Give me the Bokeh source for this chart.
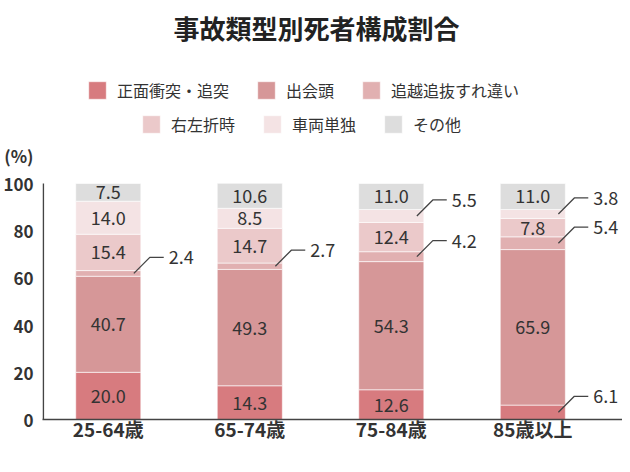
from bokeh.plotting import figure
from bokeh.models import ColumnDataSource, Range1d, FixedTicker, Legend, LegendItem, Label
from bokeh.embed import file_html
from bokeh.resources import INLINE
from bokeh.core.properties import value

# ---- data ----
categories = ["25-64歳", "65-74歳", "75-84歳", "85歳以上"]
series_names = ["正面衝突・追突", "出会頭", "追越追抜すれ違い", "右左折時", "車両単独", "その他"]
head_on = [20.0, 14.3, 12.6, 6.1]
crossing = [40.7, 49.3, 54.3, 65.9]
overtaking = [2.4, 2.7, 4.2, 5.4]
turning = [15.4, 14.7, 12.4, 7.8]
single = [14.0, 8.5, 5.5, 3.8]
other = [7.5, 10.6, 11.0, 11.0]
y_ticks = [0, 20, 40, 60, 80, 100]
y_max = 100
title_text = "事故類型別死者構成割合"
unit_text = "(%)"

series = [head_on, crossing, overtaking, turning, single, other]
colors = ["#d77b7f", "#d69798", "#e1b0b1", "#ebc9ca", "#f4e3e4", "#dddddd"]
FONT = "Noto Sans CJK JP"
TXT = "#333333"

W, H = 622, 464
LEFT = 40
BOTTOM_Y = 419          # frame bottom (px from top)
PX_X = 142.0            # px per category unit
PX_Y = 2.36             # px per percent
BW = 0.46
x0 = -(106 - LEFT) / PX_X
p = figure(width=W, height=H, output_backend="svg", toolbar_location=None, title=None,
           x_range=Range1d(x0, x0 + (W - LEFT) / PX_X), y_range=Range1d(0, BOTTOM_Y / PX_Y),
           min_border_left=LEFT, min_border_right=0, min_border_top=0,
           min_border_bottom=H - BOTTOM_Y)
p.outline_line_color = None
p.xgrid.visible = False
p.ygrid.visible = False
p.background_fill_color = "white"
p.border_fill_color = "white"

xs = list(range(len(categories)))
keys = [f"s{i}" for i in range(len(series))]
data = {"x": xs}
for k, s in zip(keys, series):
    data[k] = s
src = ColumnDataSource(data)
rs = p.vbar_stack(keys, x="x", width=BW, color=colors, line_color="white",
                  line_alpha=0.6, line_width=1, source=src)

# labels
in_x, in_y, in_t = [], [], []
ld_xs, ld_ys, ld_x, ld_y, ld_t = [], [], [], [], []
for i, x in enumerate(xs):
    base = 0.0
    for s in series:
        v = s[i]
        mid = base + v / 2
        if v >= 7:
            in_x.append(x); in_y.append(mid); in_t.append(f"{v:.1f}")
        else:
            sx = x + BW / 2 - 7 / PX_X
            x1 = sx + 16 / PX_X
            y1 = mid + 16 / PX_Y
            x2 = x1 + 14 / PX_X
            ld_xs.append([sx, x1, x2]); ld_ys.append([mid, y1, y1])
            ld_x.append(x2 + 5 / PX_X); ld_y.append(y1); ld_t.append(f"{v:.1f}")
        base += v

p.text(x=in_x, y=in_y, text=in_t, text_font=value(FONT), text_font_size="18px",
       text_color=TXT, text_align="center", text_baseline="middle")
p.multi_line(xs=ld_xs, ys=ld_ys, line_color="#444444", line_width=1.3)
p.text(x=ld_x, y=ld_y, text=ld_t, text_font=value(FONT), text_font_size="18px",
       text_color=TXT, text_align="left", text_baseline="middle")

# y axis: line drawn only from 0 to 100; "(%)" shown as the top label
unit_pos = (BOTTOM_Y - 155) / PX_Y
p.yaxis.ticker = FixedTicker(ticks=y_ticks + [round(unit_pos)])
p.yaxis.major_label_overrides = {round(unit_pos): unit_text}
p.yaxis.axis_line_color = None
p.yaxis.major_tick_line_color = None
p.yaxis.minor_tick_line_color = None
p.yaxis.major_tick_out = 0
p.yaxis.major_label_text_font = FONT
p.yaxis.major_label_text_font_size = "17px"
p.yaxis.major_label_text_font_style = "bold"
p.yaxis.major_label_text_color = TXT
p.yaxis.major_label_standoff = 9
p.segment(x0=[x0 + 0.8 / PX_X], y0=[0], x1=[x0 + 0.8 / PX_X], y1=[y_max],
          line_color="#444444", line_width=1.6)

p.xaxis.ticker = FixedTicker(ticks=xs)
p.xaxis.major_label_overrides = {i: c for i, c in enumerate(categories)}
p.xaxis.major_tick_line_color = None
p.xaxis.minor_tick_line_color = None
p.xaxis.major_tick_out = 0
p.xaxis.axis_line_color = "#444444"
p.xaxis.axis_line_width = 1.5
p.xaxis.major_label_text_font = FONT
p.xaxis.major_label_text_font_size = "19px"
p.xaxis.major_label_text_font_style = "bold"
p.xaxis.major_label_text_color = TXT
p.xaxis.major_label_standoff = -5

# legends (two centred rows)
def mk_legend(idx, loc):
    return Legend(items=[LegendItem(label=series_names[j], renderers=[rs[j]]) for j in idx],
                  location=loc, orientation="horizontal", glyph_width=22, glyph_height=22,
                  label_standoff=9, spacing=26, padding=0, margin=0,
                  border_line_alpha=0, background_fill_alpha=0,
                  label_text_font=FONT, label_text_font_size="16px", label_text_color=TXT)

p.add_layout(mk_legend([0, 1, 2], (84 - LEFT, BOTTOM_Y - 102)))
p.add_layout(mk_legend([3, 4, 5], (138 - LEFT, BOTTOM_Y - 136)))

p.add_layout(Label(x=x0 + (315 - LEFT) / PX_X, y=(BOTTOM_Y - 27) / PX_Y, text=title_text,
                   text_align="center", text_baseline="middle", text_font=FONT,
                   text_font_size="26px", text_font_style="bold", text_color="#222222"))

open("out.html", "w").write(file_html(p, INLINE))
